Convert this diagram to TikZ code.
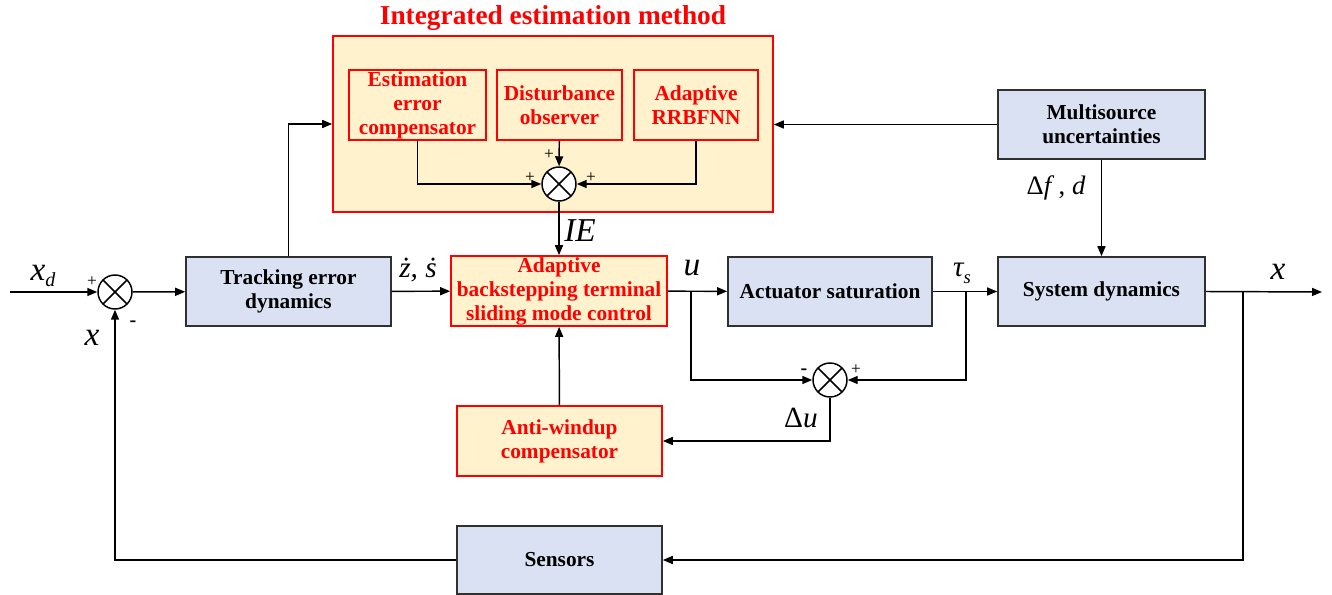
\documentclass[tikz,border=0pt]{standalone}
\usepackage{fontspec}
\setmainfont{Liberation Serif}
\usetikzlibrary{arrows.meta}
\definecolor{lav}{HTML}{DAE1F3}
\definecolor{org}{HTML}{FFF2CC}
\definecolor{bd}{HTML}{303030}
\definecolor{rd}{HTML}{FF0000}
\begin{document}
\begin{tikzpicture}[x=0.75pt,y=-0.75pt,
  arr/.style={line width=1.1pt,draw=black,-{Triangle[length=7.5pt,width=6pt]}},
  bluebox/.style={draw=bd,line width=1.2pt,fill=lav,align=center,inner sep=0pt,font=\fontsize{16}{18}\selectfont\bfseries},
  redbox/.style={draw=rd,line width=1.2pt,fill=org,align=center,inner sep=0pt,text=rd,font=\fontsize{16}{18}\selectfont\bfseries},
  sumnode/.style={circle,draw=black,line width=1.1pt,fill=white,minimum size=34*0.75pt,inner sep=0pt,
    path picture={\draw[line width=1.1pt] (path picture bounding box.north west)--(path picture bounding box.south east)
      (path picture bounding box.north east)--(path picture bounding box.south west);}},
  lab/.style={font=\fontsize{25}{27}\selectfont\itshape},
  sgn/.style={font=\fontsize{13}{14}\selectfont}
]
\useasboundingbox[fill=white] (0,0) rectangle (1332,595);
% Integrated estimation box
\node[redbox,minimum width=440*0.75pt,minimum height=176*0.75pt] (ie) at (553,124) {};
\node[text=rd,font=\fontsize{20.5}{22}\selectfont\bfseries] (title) at (553,18) {Integrated estimation method};
\node[redbox,minimum width=137*0.75pt,minimum height=70*0.75pt] (est) at (417.5,105) {Estimation\\error\\compensator};
\node[redbox,minimum width=125*0.75pt,minimum height=70*0.75pt] (dist) at (559.5,105) {Disturbance\\observer};
\node[redbox,minimum width=124*0.75pt,minimum height=70*0.75pt] (adap) at (696,105) {Adaptive\\RRBFNN};
\node[sumnode] (s2) at (559,184) {};
% main blocks
\node[bluebox,minimum width=205*0.75pt,minimum height=69*0.75pt] (track) at (288.5,291.5) {Tracking error\\dynamics};
\node[redbox,minimum width=216*0.75pt,minimum height=70*0.75pt] (abt) at (559,291) {Adaptive\\backstepping terminal\\sliding mode control};
\node[bluebox,minimum width=204*0.75pt,minimum height=69*0.75pt] (act) at (830,291.5) {Actuator saturation};
\node[bluebox,minimum width=207*0.75pt,minimum height=69*0.75pt] (sys) at (1101.5,291.5) {System dynamics};
\node[bluebox,minimum width=207*0.75pt,minimum height=69*0.75pt] (multi) at (1101.5,124.5) {Multisource\\uncertainties};
\node[bluebox,minimum width=205*0.75pt,minimum height=68*0.75pt] (sens) at (559.5,560) {Sensors};
\node[redbox,minimum width=205*0.75pt,minimum height=70*0.75pt] (anti) at (559.5,441) {Anti-windup\\compensator};
\node[sumnode] (s1) at (115,292) {};
\node[sumnode] (s3) at (830,380) {};
% coordinates
\coordinate (in) at (10,292);
\coordinate (out) at (1322,292);
\coordinate (br) at (1243,292);
\coordinate (ub) at (691,292);
\coordinate (tb) at (966,292);
% connectors
\draw[arr] (in) -- (s1);
\draw[arr] (s1) -- (track);
\draw[arr] (track.north) |- (ie.west);
\draw[arr] (sens.west) -| (s1.south);
\draw[arr] (sys.east) -- (out);
\draw[arr] (br) |- (sens.east);
\draw[arr] (multi.west) -- (multi.west -| ie.east);
\draw[arr] (multi) -- (sys);
\draw[arr] (track) -- (abt);
\draw[arr] (abt) -- (act);
\draw[arr] (act) -- (sys);
\draw[arr] (ub) |- (s3.west);
\draw[arr] (tb) |- (s3.east);
\draw[arr] (s3.south) |- (anti.east);
\draw[arr] (anti) -- (abt);
\draw[arr] (s2) -- (abt);
\draw[arr] (est.south) |- (s2.west);
\draw[arr] (dist) -- (s2);
\draw[arr] (adap.south) |- (s2.east);
% labels
\node[lab] (lxd) at (43,276) {x\raisebox{-0.4ex}{\fontsize{15}{16}\selectfont d}};
\node[lab] (lx1) at (92,338) {x};
\node[lab,font=\fontsize{22}{24}\selectfont\itshape] (lzs) at (418,270) {\.z, \.s};
\node[lab] (lie) at (580,231) {IE};
\node[lab] (lu) at (692,268) {u};
\node[lab,font=\fontsize{22}{24}\selectfont\itshape] (ltau) at (962,273) {τ\raisebox{-0.5ex}{\fontsize{14}{15}\selectfont s}};
\node[font=\fontsize{20}{22}\selectfont] (ldf) at (1056,188) {Δ\textit{f}\,, \textit{d}};
\node[lab] (lx2) at (1278,272) {x};
\node[font=\fontsize{22}{24}\selectfont] (ldu) at (801,418) {Δ\textit{u}};
% signs
\node[sgn] at (92,282) {+};
\node[sgn,font=\fontsize{15}{15}\selectfont\bfseries] at (133,324) {-};
\node[sgn] at (549,155) {+};
\node[sgn] at (530,178) {+};
\node[sgn] at (591,178) {+};
\node[sgn,font=\fontsize{15}{15}\selectfont\bfseries] at (804,372) {-};
\node[sgn] at (856,370) {+};
\end{tikzpicture}
\end{document}
